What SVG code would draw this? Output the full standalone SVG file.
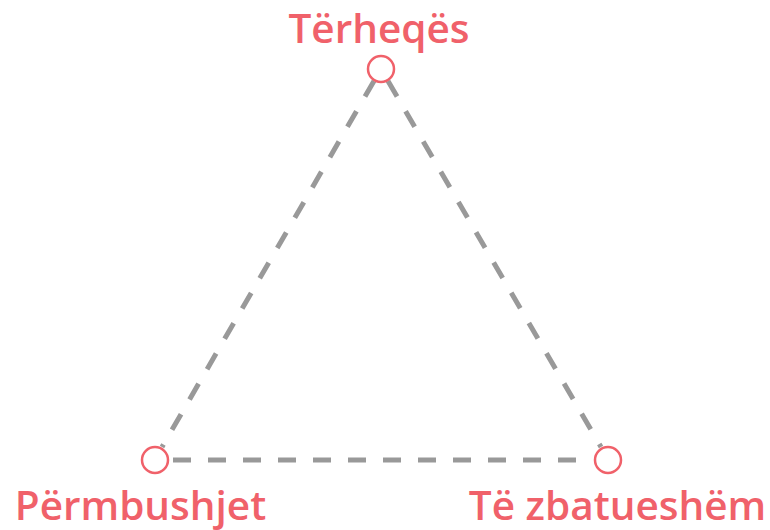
<svg xmlns="http://www.w3.org/2000/svg" width="770" height="530" viewBox="0 0 770 530">
<style>
.edge{stroke:#999999;stroke-width:5;stroke-dasharray:18 17;fill:none}
.dot{fill:#ffffff;stroke:#f0616a;stroke-width:2.5}
.lbl{fill:#f0616a;font-family:"Open Sans",sans-serif;font-weight:600;font-size:40.5px;text-anchor:middle}
</style>
<rect width="770" height="530" fill="#ffffff"/>
<g id="connectors">
<line class="edge" x1="374" y1="81" x2="162" y2="447"/>
<line class="edge" x1="388" y1="81" x2="601" y2="447"/>
<line class="edge" x1="173" y1="460" x2="592" y2="460"/>
</g>
<g id="n-top"><circle class="dot" cx="381" cy="69" r="13"/><text class="lbl" x="379" y="43">Tërheqës</text></g>
<g id="n-left"><circle class="dot" cx="155" cy="460" r="13"/><text class="lbl" x="140.5" y="520">Përmbushjet</text></g>
<g id="n-right"><circle class="dot" cx="608" cy="460" r="13"/><text class="lbl" x="617.5" y="520">Të zbatueshëm</text></g>
</svg>
